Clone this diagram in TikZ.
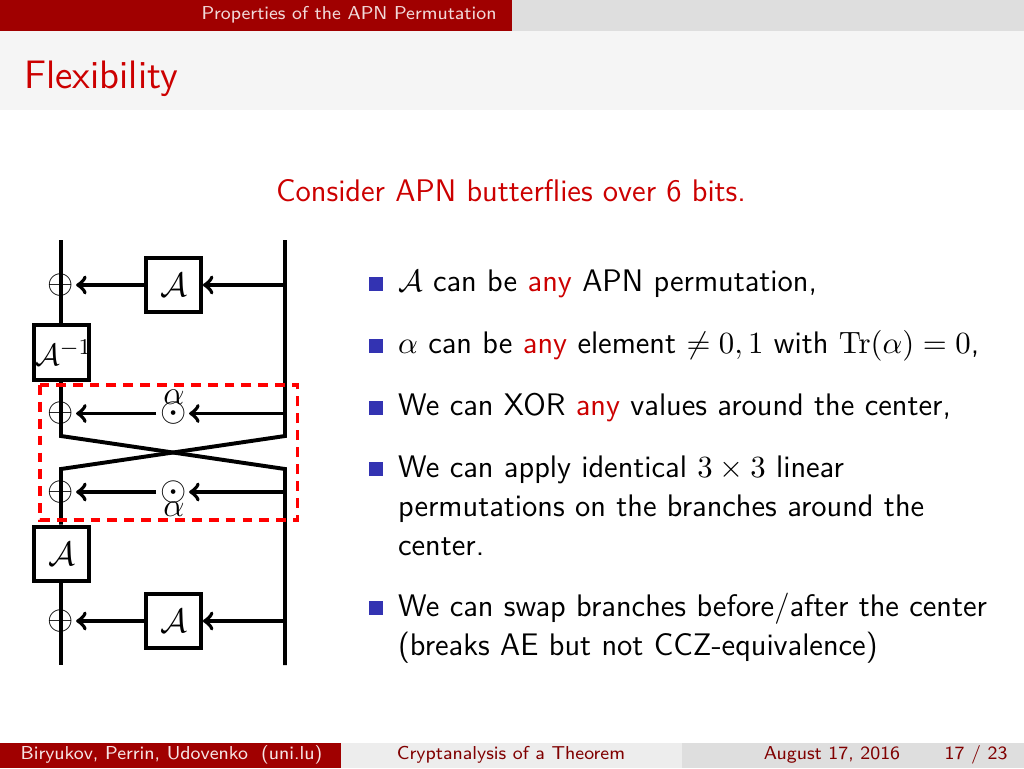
\documentclass[tikz,border=0pt]{standalone}
\usepackage{amsmath}
\usepackage{amssymb}
\usepackage{xcolor}
\usetikzlibrary{positioning}
\renewcommand{\familydefault}{\sfdefault}
\definecolor{headred}{HTML}{A00000}
\definecolor{titlered}{HTML}{CC0000}
\definecolor{footred}{HTML}{800000}
\definecolor{itemblue}{HTML}{3333B2}
\newcommand{\anyword}{\textcolor{titlered}{any}}

\begin{document}
\begin{tikzpicture}[
    x=0.0125cm, y=-0.0125cm,
    band/.style={draw=none, inner sep=0pt},
    footer/.style={band, font=\scriptsize, scale=0.95},
    wire/.style={line width=1.4pt, black},
    flow/.style={->, line width=1.4pt, black},
    perm/.style={rectangle, draw=black, line width=1.4pt, fill=white, minimum size=6.85mm, inner sep=0pt, font=\fontsize{12}{14}\selectfont},
    xorop/.style={rectangle, inner sep=0.5pt, font=\fontsize{12}{14}\selectfont},
    greek/.style={inner sep=0pt, font=\fontsize{13}{14}\selectfont},
    itemmark/.style={rectangle, fill=itemblue, minimum size=1.75mm, inner sep=0pt},
    itemtext/.style={anchor=west, text width=74mm, align=left, inner sep=0pt, font=\fontsize{11.08}{13.8}\selectfont}
]
\useasboundingbox (0,0) rectangle (1024,768);

% === Slide frame ===
\fill[white] (0,0) rectangle (1024,768);
\fill[headred] (0,0) rectangle (512,31);
\fill[black!13] (512,0) rectangle (1024,31);
\fill[black!4] (0,31) rectangle (1024,110);
\fill[headred] (0,743) rectangle (341,768);
\fill[black!7] (341,743) rectangle (682,768);
\fill[black!13] (682,743) rectangle (1024,768);

\node[band, text=white!85!headred, font=\scriptsize, scale=0.948] (section) at (349,15) {Properties of the APN Permutation};
\node[band, text=titlered, font=\fontsize{14.1}{16}\selectfont, anchor=west] (slidetitle) at (24,79) {Flexibility};
\node[band, text=titlered, font=\fontsize{11.1}{13}\selectfont] (lead) at (511,191) {Consider APN butterflies over 6 bits.};

\node[footer, text=white!90!headred, anchor=west] (authors) at (20,755) {Biryukov, Perrin, Udovenko\ \ (uni.lu)};
\node[footer, text=footred] (talk) at (511,755) {Cryptanalysis of a Theorem};
\node[footer, text=footred] (date) at (832,755) {August 17, 2016};
\node[footer, text=footred] (pages) at (976,755) {17 / 23};

% === Left: butterfly ===
\coordinate (ltop) at (61,240);
\coordinate (rtop) at (285,240);
\coordinate (lbot) at (61,665);
\coordinate (rbot) at (285,665);
\coordinate (lcrossa) at (61,436);
\coordinate (rcrossa) at (285,436);
\coordinate (lcrossb) at (61,469);
\coordinate (rcrossb) at (285,469);
\coordinate (rowa) at (285,285);
\coordinate (rowb) at (285,413.5);
\coordinate (rowc) at (285,492);
\coordinate (rowd) at (285,621);

\node[perm, font=\fontsize{11.3}{14}\selectfont] (ainv) at (61.5,352.5) {\makebox[0pt]{\hspace{1.5pt}$\mathcal{A}^{-1}$}};
\node[perm] (aleft) at (61.5,554) {$\mathcal{A}$};
\node[perm] (atop) at (173.5,285) {$\mathcal{A}$};
\node[perm] (abot) at (173.5,621) {$\mathcal{A}$};

\draw[wire] (ltop) -- (ainv.north -| ltop);
\draw[wire] (ainv.south -| ltop) -- (lcrossa) -- (rcrossb) -- (rbot);
\draw[wire] (rtop) -- (rcrossa) -- (lcrossb) -- (aleft.north -| lcrossb);
\draw[wire] (aleft.south -| lbot) -- (lbot);

\node[xorop] (plusa) at (61,285) {$\oplus$};
\node[xorop] (plusb) at (61,413.5) {$\oplus$};
\node[xorop] (plusc) at (61,492) {$\oplus$};
\node[xorop] (plusd) at (61,621) {$\oplus$};
\node[xorop] (dota) at (174,413.5) {$\odot$};
\node[xorop] (dotb) at (174,492) {$\odot$};
\node[greek, above=-1.8pt of dota] (alphaa) {$\alpha$};
\node[greek, below=-1.5pt of dotb] (alphab) {$\alpha$};

\draw[flow] (rowa) -- (atop.east);
\draw[flow] (atop.west) -- (plusa);
\draw[flow] (rowb) -- (dota);
\draw[flow, shorten <=1pt] (dota) -- (plusb);
\draw[flow] (rowc) -- (dotb);
\draw[flow, shorten <=1pt] (dotb) -- (plusc);
\draw[flow] (rowd) -- (abot.east);
\draw[flow] (abot.west) -- (plusd);

% Dashed center
\coordinate (centernw) at (40,385);
\coordinate (centerse) at (297.5,520);
\draw[red, line width=1.4pt, dash pattern=on 3.5pt off 2.5pt] (centernw) rectangle (centerse);

% === Right: list ===
\node[itemmark] (marka) at (375.5,284) {};
\node[itemmark] (markb) at (375.5,346) {};
\node[itemmark] (markc) at (375.5,408) {};
\node[itemmark] (markd) at (375.5,469) {};
\node[itemmark] (marke) at (375.5,608) {};

\node[itemtext] (itema) at (397.5,284) {$\mathcal{A}$ can be \anyword{} APN permutation,};
\node[itemtext] (itemb) at (397.5,346) {$\alpha$ can be \anyword{} element $\neq 0,1$ with $\mathrm{Tr}(\alpha)=0$,};
\node[itemtext] (itemc) at (397.5,408) {We can XOR \anyword{} values around the center,};
\node[itemtext] (itemd) at (397.5,506) {We can apply identical $3\times 3$ linear\\permutations on the branches around the\\center.};
\node[itemtext] (iteme) at (397.5,628) {We can swap branches before/after the center\\(breaks AE but not CCZ-equivalence)};

\end{tikzpicture}
\end{document}
